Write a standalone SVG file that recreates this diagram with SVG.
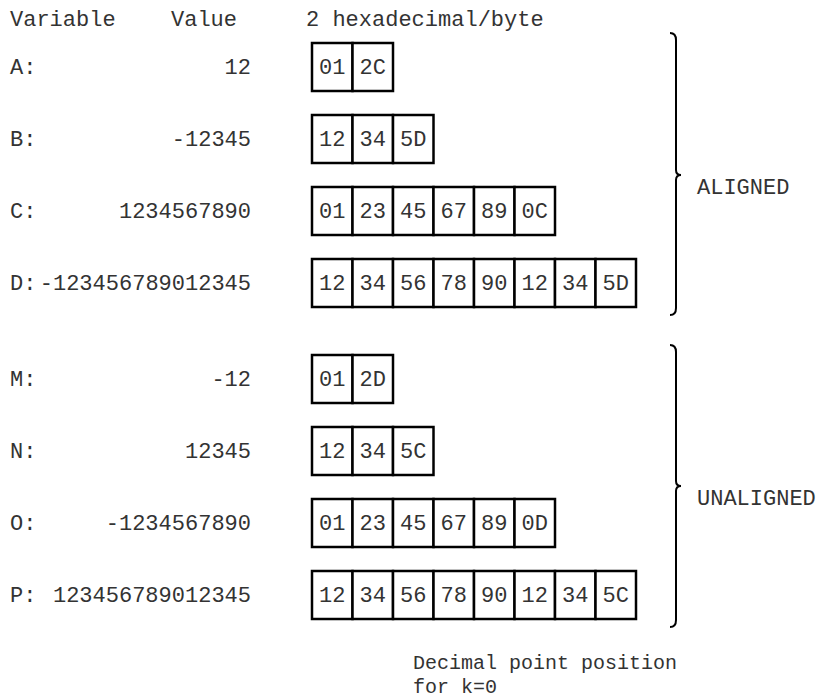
<svg xmlns="http://www.w3.org/2000/svg" width="819" height="700" viewBox="0 0 819 700">
<style>
text { font-family: "Liberation Mono", "Courier New", monospace; font-size: 22px; fill: #333; }
.v { text-anchor: end; }
.note { font-size: 20px; }
.cell { fill: #fff; stroke: #000; stroke-width: 2.5; }
.brace { fill: none; stroke: #000; stroke-width: 2; }
</style>
<g id="header">
<text x="10" y="26">Variable</text>
<text x="171" y="26">Value</text>
<text x="306" y="26">2 hexadecimal/byte</text>
</g>
<g id="rowA">
<text x="10" y="74">A:</text><text class="v" x="251" y="74">12</text>
<rect class="cell" x="312" y="43" width="40.5" height="48"/><rect class="cell" x="352.5" y="43" width="40.5" height="48"/>
<text x="319" y="74">01</text><text x="359.5" y="74">2C</text>
</g>
<g id="rowB">
<text x="10" y="146">B:</text><text class="v" x="251" y="146">-12345</text>
<rect class="cell" x="312" y="115" width="40.5" height="48"/><rect class="cell" x="352.5" y="115" width="40.5" height="48"/><rect class="cell" x="393" y="115" width="40.5" height="48"/>
<text x="319" y="146">12</text><text x="359.5" y="146">34</text><text x="400" y="146">5D</text>
</g>
<g id="rowC">
<text x="10" y="218">C:</text><text class="v" x="251" y="218">1234567890</text>
<rect class="cell" x="312" y="187" width="40.5" height="48"/><rect class="cell" x="352.5" y="187" width="40.5" height="48"/><rect class="cell" x="393" y="187" width="40.5" height="48"/><rect class="cell" x="433.5" y="187" width="40.5" height="48"/><rect class="cell" x="474" y="187" width="40.5" height="48"/><rect class="cell" x="514.5" y="187" width="40.5" height="48"/>
<text x="319" y="218">01</text><text x="359.5" y="218">23</text><text x="400" y="218">45</text><text x="440.5" y="218">67</text><text x="481" y="218">89</text><text x="521.5" y="218">0C</text>
</g>
<g id="rowD">
<text x="10" y="290">D:</text><text class="v" x="251" y="290">-123456789012345</text>
<rect class="cell" x="312" y="259" width="40.5" height="48"/><rect class="cell" x="352.5" y="259" width="40.5" height="48"/><rect class="cell" x="393" y="259" width="40.5" height="48"/><rect class="cell" x="433.5" y="259" width="40.5" height="48"/><rect class="cell" x="474" y="259" width="40.5" height="48"/><rect class="cell" x="514.5" y="259" width="40.5" height="48"/><rect class="cell" x="555" y="259" width="40.5" height="48"/><rect class="cell" x="595.5" y="259" width="40.5" height="48"/>
<text x="319" y="290">12</text><text x="359.5" y="290">34</text><text x="400" y="290">56</text><text x="440.5" y="290">78</text><text x="481" y="290">90</text><text x="521.5" y="290">12</text><text x="562" y="290">34</text><text x="602.5" y="290">5D</text>
</g>
<g id="rowM">
<text x="10" y="386">M:</text><text class="v" x="251" y="386">-12</text>
<rect class="cell" x="312" y="355" width="40.5" height="48"/><rect class="cell" x="352.5" y="355" width="40.5" height="48"/>
<text x="319" y="386">01</text><text x="359.5" y="386">2D</text>
</g>
<g id="rowN">
<text x="10" y="458">N:</text><text class="v" x="251" y="458">12345</text>
<rect class="cell" x="312" y="427" width="40.5" height="48"/><rect class="cell" x="352.5" y="427" width="40.5" height="48"/><rect class="cell" x="393" y="427" width="40.5" height="48"/>
<text x="319" y="458">12</text><text x="359.5" y="458">34</text><text x="400" y="458">5C</text>
</g>
<g id="rowO">
<text x="10" y="530">O:</text><text class="v" x="251" y="530">-1234567890</text>
<rect class="cell" x="312" y="499" width="40.5" height="48"/><rect class="cell" x="352.5" y="499" width="40.5" height="48"/><rect class="cell" x="393" y="499" width="40.5" height="48"/><rect class="cell" x="433.5" y="499" width="40.5" height="48"/><rect class="cell" x="474" y="499" width="40.5" height="48"/><rect class="cell" x="514.5" y="499" width="40.5" height="48"/>
<text x="319" y="530">01</text><text x="359.5" y="530">23</text><text x="400" y="530">45</text><text x="440.5" y="530">67</text><text x="481" y="530">89</text><text x="521.5" y="530">0D</text>
</g>
<g id="rowP">
<text x="10" y="602">P:</text><text class="v" x="251" y="602">123456789012345</text>
<rect class="cell" x="312" y="571" width="40.5" height="48"/><rect class="cell" x="352.5" y="571" width="40.5" height="48"/><rect class="cell" x="393" y="571" width="40.5" height="48"/><rect class="cell" x="433.5" y="571" width="40.5" height="48"/><rect class="cell" x="474" y="571" width="40.5" height="48"/><rect class="cell" x="514.5" y="571" width="40.5" height="48"/><rect class="cell" x="555" y="571" width="40.5" height="48"/><rect class="cell" x="595.5" y="571" width="40.5" height="48"/>
<text x="319" y="602">12</text><text x="359.5" y="602">34</text><text x="400" y="602">56</text><text x="440.5" y="602">78</text><text x="481" y="602">90</text><text x="521.5" y="602">12</text><text x="562" y="602">34</text><text x="602.5" y="602">5C</text>
</g>
<g id="aligned">
<path class="brace" d="M670,33 Q676,33 676,40 L676,170 Q676,175 681,175 Q676,175 676,180 L676,308 Q676,315 670,315"/>
<text x="697" y="194">ALIGNED</text>
</g>
<g id="unaligned">
<path class="brace" d="M670,345 Q676,345 676,352 L676,481 Q676,486 681,486 Q676,486 676,491 L676,620 Q676,627 670,627"/>
<text x="697" y="505">UNALIGNED</text>
</g>
<g id="note">
<text class="note" x="413" y="669">Decimal point position</text>
<text class="note" x="413" y="693">for k=0</text>
</g>
</svg>
